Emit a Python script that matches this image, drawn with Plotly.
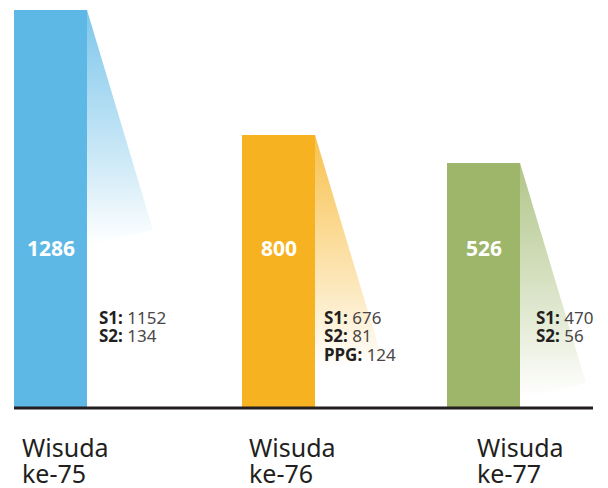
import plotly.graph_objects as go

# ---- data ----
categories_line1 = ["Wisuda", "Wisuda", "Wisuda"]
categories_line2 = ["ke-75", "ke-76", "ke-77"]
totals = [1286, 800, 526]
# visual bar heights as drawn in the infographic (not proportional to totals)
bar_heights = [1286, 882, 792]
s1 = [1152, 676, 470]
s2 = [134, 81, 56]
ppg = [None, 124, None]

# ---- style / layout constants ----
W, H = 608, 488
BASE_PX = 408           # baseline pixel row
K = 1286 / 398          # data units per pixel (vertical)
bar_x = [50.5, 278.5, 483.5]
bar_w = 73
colors = ["#5DB8E6", "#F6B221", "#9DB66A"]
rgb = [(93, 184, 230), (246, 178, 33), (157, 182, 106)]
label_x = [20, 247, 475]
detail_x = [97, 322, 534]
DARK = "#231F20"
FONT = "Noto Sans"

def py2paper(py):
    return (H - py) / H

fig = go.Figure()

# shadows (gradient)
SH_LEN = 220 * K
SH_DX = 66
for i in range(3):
    xr = bar_x[i] + bar_w / 2
    top = bar_heights[i]
    r, g, b = rgb[i]
    xs = [xr, xr + SH_DX, xr + 8, xr, xr]
    ys = [top, top - SH_LEN, top - SH_LEN - 14 * K, top - SH_LEN - 14 * K, top]
    fig.add_trace(go.Scatter(
        x=xs, y=ys, mode="lines", fill="toself",
        line=dict(width=0, color="rgba(0,0,0,0)"),
        fillgradient=dict(type="vertical", colorscale=[
            [0, f"rgba({r},{g},{b},0)"],
            [0.35, f"rgba({r},{g},{b},0.3)"],
            [1, f"rgba({r},{g},{b},0.8)"]]),
        hoverinfo="skip", showlegend=False))

# bars
fig.add_trace(go.Bar(
    x=bar_x, y=bar_heights, width=bar_w,
    marker=dict(color=colors, line=dict(width=0)),
    showlegend=False, hoverinfo="skip"))

# baseline
fig.add_shape(type="line", x0=14, x1=593, y0=0, y1=0, xref="x", yref="y",
              line=dict(color=DARK, width=3))

ann = []
for i in range(3):
    # total value in bar
    ann.append(dict(x=bar_x[i], y=py2paper(248), xref="x", yref="paper",
                    text=f"<b>{totals[i]}</b>", showarrow=False,
                    xanchor="center", yanchor="middle",
                    font=dict(family=FONT, size=21, color="white")))
    # category labels
    ann.append(dict(x=label_x[i], y=py2paper(447), xref="x", yref="paper",
                    text=categories_line1[i], showarrow=False,
                    xanchor="left", yanchor="middle",
                    font=dict(family=FONT, size=25, color=DARK)))
    ann.append(dict(x=label_x[i], y=py2paper(473), xref="x", yref="paper",
                    text=categories_line2[i], showarrow=False,
                    xanchor="left", yanchor="middle",
                    font=dict(family=FONT, size=25, color=DARK)))
    # breakdown
    lines = [("S1", s1[i]), ("S2", s2[i]), ("PPG", ppg[i])]
    row = 0
    for name, v in lines:
        if v is None:
            continue
        ann.append(dict(x=detail_x[i], y=py2paper(317 + row * 18.5), xref="x", yref="paper",
                        text=f"<b>{name}:</b> <span style='color:#4a4546'>{v}</span>",
                        showarrow=False, xanchor="left", yanchor="middle",
                        font=dict(family=FONT, size=17, color=DARK)))
        row += 1

fig.update_layout(
    width=W, height=H, margin=dict(l=0, r=0, t=0, b=0),
    paper_bgcolor="white", plot_bgcolor="white",
    xaxis=dict(range=[0, W], visible=False, fixedrange=True),
    yaxis=dict(range=[-(H - BASE_PX) * K, BASE_PX * K], visible=False, fixedrange=True),
    annotations=ann, bargap=0,
)

fig.write_html("out.html", config={"displayModeBar": False},
               post_script="document.body.style.margin='0';document.body.style.overflow='hidden';")
